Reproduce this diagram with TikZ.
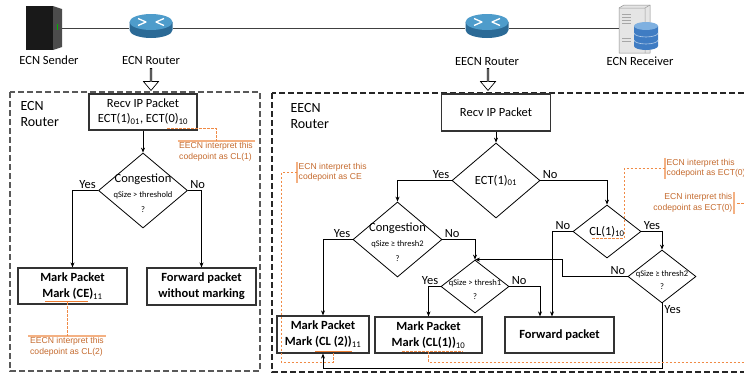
\documentclass[tikz,border=0pt]{standalone}
\usepackage{fontspec}
\setmainfont{Carlito}
\newfontfamily\notefont{Liberation Sans}
\usepackage{tikz}
\usetikzlibrary{shapes, arrows.meta, positioning}
\usepackage{xcolor}
\definecolor{orgT}{HTML}{C46A2E}
\definecolor{orgD}{HTML}{F08A45}
\definecolor{orgL}{HTML}{F4B183}
\definecolor{orgU}{HTML}{ED7D31}
\definecolor{rtTop}{HTML}{4E9CCB}
\definecolor{rtSide}{HTML}{2B6A96}
\definecolor{dbBlue}{HTML}{3F7CC3}
\definecolor{dbTop}{HTML}{7FB0E0}
\newcommand{\bigsz}{\fontsize{12.5}{15}\selectfont}
\newcommand{\smallsz}{\fontsize{8.5}{10}\selectfont}
\newcommand{\notesz}{\notefont\fontsize{8.6}{10.5}\selectfont}
\newcommand{\subn}[1]{\textsubscript{\mdseries#1}}

\begin{document}
\begin{tikzpicture}[>={Stealth[length=5pt,width=4pt]}, x=1pt, y=-1pt,
    every node/.style={font=\bigsz},
    box/.style={draw=black!80, line width=1.2pt, rectangle, align=center, inner sep=0pt},
    markbox/.style={box, font=\bigsz\bfseries},
    dec/.style={draw, diamond, inner sep=0pt, line width=0.8pt},
    link/.style={->, line width=0.8pt},
    yn/.style={inner sep=2pt},
    frame/.style={dash pattern=on 6pt off 3pt, line width=1.1pt},
    note/.style={font=\notesz, text=orgT, align=left, inner sep=1.5pt},
    odsh/.style={draw=orgD, dash pattern=on 2.5pt off 1.5pt, line width=0.8pt},
    obar/.style={draw=orgL, line width=1.2pt},
    oline/.style={draw=orgU, line width=1pt},
    dev/.style={inner sep=0pt},
    hollow/.style={draw, single arrow, shape border rotate=270, inner sep=0pt, minimum width=15pt, minimum height=22pt, single arrow head extend=3pt, single arrow tip angle=80, line width=0.7pt},
    router/.pic={
        \fill[rtSide] (-21.5,-6) -- (-21.5,2) arc[start angle=180, end angle=0, x radius=21.5, y radius=8] -- (21.5,-6) -- cycle;
        \fill[rtTop] (0,-6) ellipse[x radius=21.5, y radius=8];
        \draw[white, line width=1.3pt, line join=round] (-13,-9.5) -- (-5,-6) -- (-13,-2.5) (13,-9.5) -- (5,-6) -- (13,-2.5);
    },
    server/.pic={
        \fill[black!90] (-18,-22) rectangle (9,22);
        \fill[black!70] (9,-22) -- (18,-19) -- (18,19) -- (9,22) -- cycle;
        \draw[green!70!black, line width=1.2pt] (13.5,-4) -- (13.5,2);
    },
    store/.pic={
        \fill[black!10, draw=black!45, line width=0.5pt] (-20,-20) -- (-15,-23) -- (11,-23) -- (11,25) -- (-20,25) -- cycle;
        \draw[black!40, line width=0.5pt] (-20,-20) -- (6,-20) -- (11,-23) (6,-20) -- (6,25);
        \foreach \yy in {-14,-11,-8,-5,10,13} \draw[black!35, line width=0.6pt] (-17,\yy) -- (-8,\yy);
        \fill[dbBlue] (-5,-2) -- (-5,18) arc[start angle=180, end angle=0, x radius=12, y radius=4] -- (19,-2) -- cycle;
        \fill[dbTop] (7,-2) ellipse[x radius=12, y radius=4];
        \draw[white!60!dbBlue, line width=0.6pt] (-5,5) arc[start angle=180, end angle=0, x radius=12, y radius=4] (-5,12) arc[start angle=180, end angle=0, x radius=12, y radius=4];
    }
]
    \useasboundingbox (0,0) rectangle (744,375);

    % 网络拓扑
    \node[dev, minimum width=36pt, minimum height=45pt] (snd) at (44,28) {};
    \node[dev, minimum width=43pt, minimum height=25pt] (r1) at (151,28) {};
    \node[dev, minimum width=44pt, minimum height=25pt] (r2) at (487,28) {};
    \node[dev, minimum width=40pt, minimum height=45pt] (rcv) at (639,28) {};
    \pic at (snd) {server};
    \pic at (r1) {router};
    \pic at (r2) {router};
    \pic at (rcv) {store};
    \draw[line width=0.9pt, black!75] (snd.east) -- (r1.west);
    \draw[line width=0.9pt, black!75] (r1.east) -- (r2.west);
    \draw[line width=0.9pt, black!75] (r2.east) -- (rcv.west);
    \node (sndL) at (49,60) {ECN Sender};
    \node (r1L) at (151,60) {ECN Router};
    \node (r2L) at (487,61) {EECN Router};
    \node (rcvL) at (640,61) {ECN Receiver};
    \node[hollow] (dn1) at (151,79) {};
    \node[hollow] (dn2) at (488,79) {};

    % ECN 路由器
    \draw[frame, black!65] (10,92) rectangle (260,371);
    \node[align=left, anchor=west, font=\fontsize{14}{16}\selectfont] (lab1) at (17,114) {ECN\\Router};
    \node[box, minimum width=108pt, minimum height=36pt] (recv1) at (143,112) {Recv IP Packet\\ECT(1)\subn{01}, ECT(0)\subn{10}};
    \node[dec, minimum width=89pt, minimum height=75pt] (cong1) at (143,190.5) {};
    \node[align=center] (cong1t) at (143,193.5) {Congestion\\{\smallsz qSize > threshold}\\{\smallsz ?}};
    \node[markbox, minimum width=109pt, minimum height=36pt] (mark1) at (72.5,286) {Mark Packet\\[1pt]Mark (CE)\subn{11}};
    \node[markbox, minimum width=109pt, minimum height=37pt] (fwd1) at (201.5,286.5) {Forward packet\\[1pt]without marking};

    \draw[link] (recv1) -- (cong1);
    \draw[link] (cong1.west) -| node[yn, above left, pos=0] {Yes} (mark1.north);
    \draw[link] (cong1.east) -| node[yn, above right, pos=0] {No} (fwd1.north);

    \node[note] (n1) at (216,152) {EECN interpret this\\codepoint as CL(1)};
    \draw[obar] (n1.north west) -- (n1.north east);
    \draw[odsh] ([shift={(24,16)}]recv1.center) -| (n1.north);
    \node[note] (n2) at (67,347) {EECN interpret this\\codepoint as CL(2)};
    \draw[obar] (n2.north west) -- (n2.north east);
    \draw[oline] ([shift={(-27.5,15)}]mark1.center) -- ++(43,0);
    \draw[odsh] ([shift={(-5.5,16)}]mark1.center) -- (n2.north);

    % EECN 路由器
    \draw[frame, black!85] (272,93) rectangle (760,372);
    \node[align=left, anchor=west, font=\fontsize{14}{16}\selectfont] (lab2) at (287,116) {EECN\\Router};
    \node[box, minimum width=109pt, minimum height=37pt] (recv2) at (496,112.5) {Recv IP Packet};
    \node[dec, minimum width=88pt, minimum height=75pt] (ect) at (496,180.5) {};
    \node (ectT) at (ect) {ECT(1)\subn{01}};
    \node[dec, minimum width=89pt, minimum height=75pt] (cong2) at (397.5,239.5) {};
    \node[align=center] (cong2t) at (397.5,242) {Congestion\\{\smallsz qSize ≥ thresh2}\\{\smallsz ?}};
    \node[dec, minimum width=68pt, minimum height=53pt] (cl) at (607,231.5) {};
    \node (clT) at (cl) {CL(1)\subn{10}};
    \node[dec, minimum width=68pt, minimum height=53pt] (th1) at (475,286.5) {};
    \node[align=center, font=\smallsz] (th1t) at (475,290) {qSize > thresh1\\[4pt]?};
    \node[dec, minimum width=68pt, minimum height=53pt] (th2) at (662,276.5) {};
    \node[align=center, font=\smallsz] (th2t) at (662,280.5) {qSize ≥ thresh2\\[3pt]?};
    \node[markbox, minimum width=92pt, minimum height=37pt] (mark2) at (323,334.5) {Mark Packet\\[1pt]Mark (CL (2))\subn{11}};
    \node[markbox, minimum width=107pt, minimum height=36pt] (mark3) at (428.5,335) {Mark Packet\\[1pt]Mark (CL(1))\subn{10}};
    \node[markbox, minimum width=109pt, minimum height=36pt] (fwd2) at (559.5,335) {Forward packet};
    \coordinate (bot) at (0,368);

    \draw[link] (recv2) -- (ect);
    \draw[link] (ect.west) -| node[yn, above left, pos=0] {Yes} (cong2.north);
    \draw[link] (ect.east) -| node[yn, above right, pos=0] {No} (cl.north);
    \draw[link] (cong2.west) -| node[yn, above left, pos=0] {Yes} (mark2.north);
    \draw[link] (cong2.east) -| node[yn, above right, pos=0] {No} (th1.north);
    \draw[link] (th1.west) -| node[yn, above left, pos=0] {Yes} (mark3.north);
    \draw[link] (th1.east) -| node[yn, above right, pos=0] {No} ([xshift=-19.5pt]fwd2.north);
    \draw[link] (cl.west) -| node[yn, above left, pos=0] {No} ([xshift=-7.5pt]fwd2.north);
    \draw[link] (cl.east) -| node[yn, above right, pos=0] {Yes} (th2.north);
    \draw[link] (th2.west) -- node[yn, above left, pos=0] {No} ++(-65,0) |- (th1.north);
    \draw[link] (th2.south) -- node[yn, below right, pos=0] {Yes} (th2.south |- bot) -| (mark2.south);

    % 注释
    \node[note, anchor=west] (n3) at (297,172.5) {ECN interpret this\\codepoint as CE};
    \draw[obar] (n3.north west) -- (n3.south west);
    \draw[oline] ([shift={(-8,17)}]mark2.center) -- ++(37,0);
    \coordinate (u2) at ([shift={(10,17)}]mark2.center);
    \draw[odsh] (n3.west) -- ++(-16,0) -- ++(0,189.5) -| (u2);
    \node[note, anchor=west] (n4) at (665,168.5) {ECN interpret this\\codepoint as ECT(0)};
    \draw[obar] (n4.north west) -- (n4.south west);
    \draw[odsh] ([shift={(-15,6.5)}]cl.center) -- ++(32,0) |- (n4.west);
    \node[note, anchor=east, align=right] (n5) at (734,203) {ECN interpret this\\codepoint as ECT(0)};
    \draw[obar] (n5.north east) -- (n5.south east);
    \draw[odsh] ([xshift=3pt]n5.east) -- ++(30,0);
    \draw[odsh] ([shift={(-26.5,16)}]mark3.center) -- ++(61,0);
    \draw[odsh] ([shift={(0,16)}]mark3.center) -- ++(0,11) -- ++(340,0);
\end{tikzpicture}
\end{document}
